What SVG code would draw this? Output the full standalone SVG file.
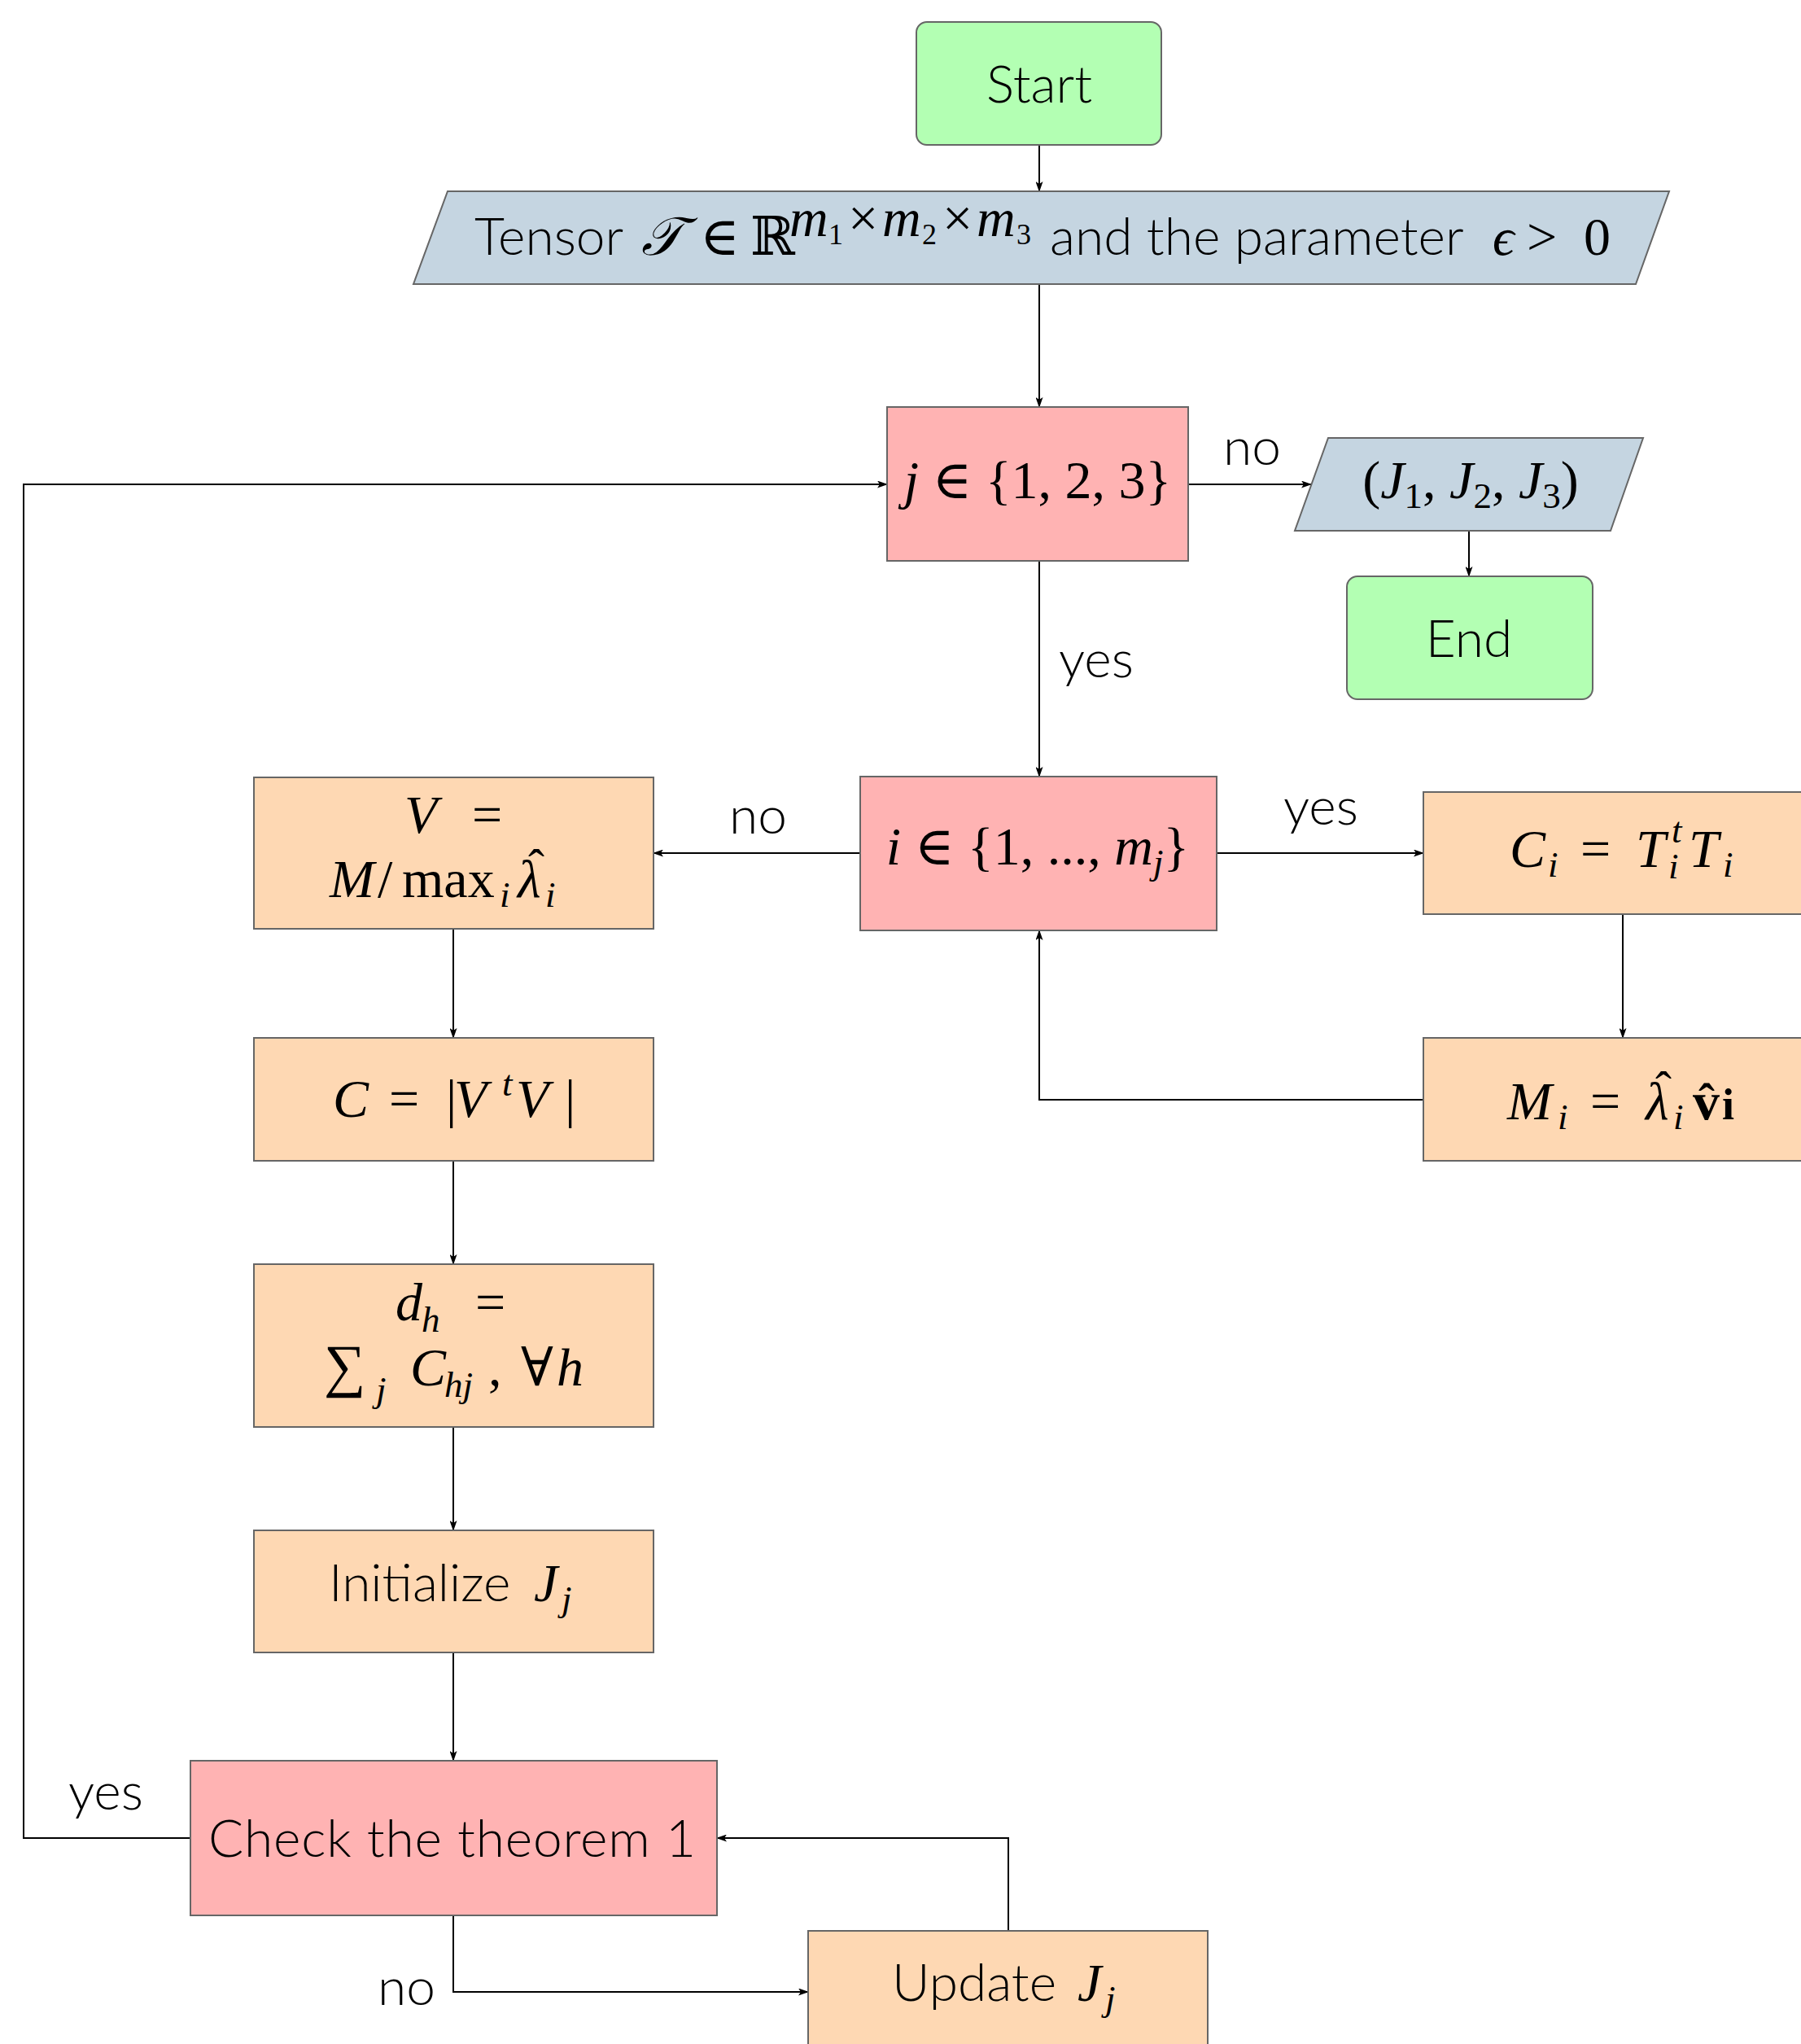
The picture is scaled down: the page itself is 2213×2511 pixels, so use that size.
<svg xmlns="http://www.w3.org/2000/svg" width="2213" height="2511" viewBox="0 0 2213 2511">
<style>
.t{font-family:Lato,"Liberation Sans",sans-serif;font-weight:300;font-size:64px;fill:#000}
.m{font-family:"Liberation Serif","DejaVu Serif",serif;font-size:66px;fill:#000}
.it{font-style:italic}
.sb{font-size:45px}
.hat{font-size:60px;font-style:normal;text-anchor:middle}
.box{stroke:#666;stroke-width:2}
.g{fill:#b3ffb3}.b{fill:#c5d5e1}.r{fill:#ffb3b3}.o{fill:#fed8b3}
.c{fill:none;stroke:#000;stroke-width:2}
</style>
<defs>
<marker id="ah" markerUnits="userSpaceOnUse" markerWidth="13" markerHeight="9" refX="12" refY="4.5" orient="auto">
<path d="M0,0 L13,4.5 L0,9 L3,4.5 z" fill="#000"/>
</marker>
</defs>
<g id="connectors">
<path class="c" marker-end="url(#ah)" d="M1277,178 V235"/>
<path class="c" marker-end="url(#ah)" d="M1277,349 V500"/>
<path class="c" marker-end="url(#ah)" d="M1460,595 H1611"/>
<path class="c" marker-end="url(#ah)" d="M1805,652 V708"/>
<path class="c" marker-end="url(#ah)" d="M1277,689 V954"/>
<path class="c" marker-end="url(#ah)" d="M1495,1048 H1749"/>
<path class="c" marker-end="url(#ah)" d="M1994,1123 V1275"/>
<path class="c" marker-end="url(#ah)" d="M1749,1351 H1277 V1143"/>
<path class="c" marker-end="url(#ah)" d="M1057,1048 H803"/>
<path class="c" marker-end="url(#ah)" d="M557,1141 V1275"/>
<path class="c" marker-end="url(#ah)" d="M557,1426 V1553"/>
<path class="c" marker-end="url(#ah)" d="M557,1753 V1880"/>
<path class="c" marker-end="url(#ah)" d="M557,2030 V2163"/>
<path class="c" marker-end="url(#ah)" d="M557,2353 V2447 H993"/>
<path class="c" marker-end="url(#ah)" d="M1239,2372 V2258 H881"/>
<path class="c" marker-end="url(#ah)" d="M234,2258 H29 V595 H1090"/>
<text class="t" x="1503" y="571">no</text>
<text class="t" x="1301" y="832">yes</text>
<text class="t" x="1577" y="1013">yes</text>
<text class="t" x="896" y="1024">no</text>
<text class="t" x="84" y="2223">yes</text>
<text class="t" x="464" y="2463">no</text>
</g>
<g id="start">
<rect class="box g" x="1126" y="27" width="301" height="151" rx="13"/>
<text class="t" x="1277" y="126" text-anchor="middle">Start</text>
</g>
<g id="input">
<polygon class="box b" points="550,235 2051,235 2010,349 508,349"/>
<text class="t" x="583" y="313">Tensor</text>
<text class="m it" x="788" y="313">𝒯</text>
<text class="m" x="860" y="313">∈</text>
<text class="m" x="922" y="313">ℝ</text>
<text class="m it" y="290" font-size="52"><tspan x="970">m</tspan><tspan x="1018" dy="10" font-size="36" font-style="normal">1</tspan><tspan x="1042" dy="-10" font-style="normal">×</tspan><tspan x="1084">m</tspan><tspan x="1133" dy="10" font-size="36" font-style="normal">2</tspan><tspan x="1158" dy="-10" font-style="normal">×</tspan><tspan x="1200">m</tspan><tspan x="1249" dy="10" font-size="36" font-style="normal">3</tspan></text>
<text class="t" x="1290" y="313">and the parameter</text>
<text class="m it" x="1834" y="313" font-size="56">ϵ</text>
<text class="m" x="1876" y="313">&gt;</text>
<text class="m" x="1946" y="313">0</text>
</g>
<g id="jloop">
<rect class="box r" x="1090" y="500" width="370" height="189"/>
<text class="m" x="1275" y="612" text-anchor="middle"><tspan class="it">j</tspan> ∈ {1, 2, 3}</text>
</g>
<g id="output">
<polygon class="box b" points="1632,538 2019,538 1979,652 1591,652"/>
<text class="m" x="1807" y="612" text-anchor="middle" font-size="70">(<tspan class="it">J</tspan><tspan class="sb" dy="12">1</tspan><tspan dy="-12">, </tspan><tspan class="it">J</tspan><tspan class="sb" dy="12">2</tspan><tspan dy="-12">, </tspan><tspan class="it">J</tspan><tspan class="sb" dy="12">3</tspan><tspan dy="-12">)</tspan></text>
</g>
<g id="end">
<rect class="box g" x="1655" y="708" width="302" height="151" rx="13"/>
<text class="t" x="1805" y="807" text-anchor="middle">End</text>
</g>
<g id="iloop">
<rect class="box r" x="1057" y="954" width="438" height="189"/>
<text class="m" x="1275" y="1062" text-anchor="middle" font-size="70"><tspan class="it">i</tspan> ∈ {1, ..., <tspan class="it">m</tspan><tspan class="sb it" dy="12">j</tspan><tspan dy="-12">}</tspan></text>
</g>
<g id="ci">
<rect class="box o" x="1749" y="973" width="491" height="150"/>
<text class="m" y="1065"><tspan x="1855" class="it">C</tspan><tspan x="1902" dy="12" class="sb it">i</tspan><tspan x="1942" dy="-12">=</tspan><tspan x="2010" class="it">T</tspan><tspan x="2054" dy="-30" class="sb it">t</tspan><tspan x="2050" dy="44" class="sb it">i</tspan><tspan x="2075" dy="-14" class="it">T</tspan><tspan x="2117" dy="12" class="sb it">i</tspan></text>
</g>
<g id="mi">
<rect class="box o" x="1749" y="1275" width="491" height="151"/>
<text class="m" y="1375"><tspan x="1852" class="it">M</tspan><tspan x="1914" dy="12" class="sb it">i</tspan><tspan x="1954" dy="-12">=</tspan><tspan x="2022" class="it">λ</tspan><tspan x="2044" dy="-18" class="hat">ˆ</tspan><tspan x="2056" dy="30" class="sb it">i</tspan><tspan x="2080" dy="-12" font-weight="bold">v</tspan><tspan x="2097" dy="-3" class="hat" font-weight="bold">ˆ</tspan><tspan x="2116" dy="3" font-weight="bold" font-size="54">i</tspan></text>
</g>
<g id="vnorm">
<rect class="box o" x="312" y="955" width="491" height="186"/>
<text class="m" y="1023"><tspan x="497" class="it">V</tspan><tspan x="580">=</tspan></text>
<text class="m" y="1102"><tspan x="405" class="it">M</tspan><tspan x="464">/</tspan><tspan x="494">max</tspan><tspan x="614" dy="12" class="sb it">i</tspan><tspan x="636" dy="-12" class="it">λ</tspan><tspan x="659" dy="-18" class="hat">ˆ</tspan><tspan x="670" dy="30" class="sb it">i</tspan></text>
</g>
<g id="cmat">
<rect class="box o" x="312" y="1275" width="491" height="151"/>
<text class="m" y="1372"><tspan x="409" class="it">C</tspan><tspan x="478">=</tspan><tspan x="548">|</tspan><tspan x="558" class="it">V</tspan><tspan x="617" dy="-26" class="sb it">t</tspan><tspan x="634" dy="26" class="it">V</tspan><tspan x="694">|</tspan></text>
</g>
<g id="dh">
<rect class="box o" x="312" y="1553" width="491" height="200"/>
<text class="m" y="1622"><tspan x="486" class="it">d</tspan><tspan x="518" dy="14" class="sb it">h</tspan><tspan x="584" dy="-14">=</tspan></text>
<text class="m" y="1702"><tspan x="398" font-size="72">∑</tspan><tspan x="462" dy="20" class="sb it">j</tspan><tspan x="504" dy="-20" class="it">C</tspan><tspan x="546" dy="14" class="sb it">hj</tspan><tspan x="600" dy="-14">,</tspan><tspan x="640">∀</tspan><tspan x="684" class="it">h</tspan></text>
</g>
<g id="init">
<rect class="box o" x="312" y="1880" width="491" height="150"/>
<text class="t" x="404" y="1967">Initialize</text>
<text class="m" y="1967"><tspan x="656" class="it">J</tspan><tspan x="690" dy="12" class="sb it">j</tspan></text>
</g>
<g id="check">
<rect class="box r" x="234" y="2163" width="647" height="190"/>
<text class="t" x="256" y="2281" textLength="599" lengthAdjust="spacing">Check the theorem 1</text>
</g>
<g id="update">
<rect class="box o" x="993" y="2372" width="491" height="151"/>
<text class="t" x="1096" y="2458">Update</text>
<text class="m" y="2458"><tspan x="1324" class="it">J</tspan><tspan x="1358" dy="12" class="sb it">j</tspan></text>
</g>
</svg>
